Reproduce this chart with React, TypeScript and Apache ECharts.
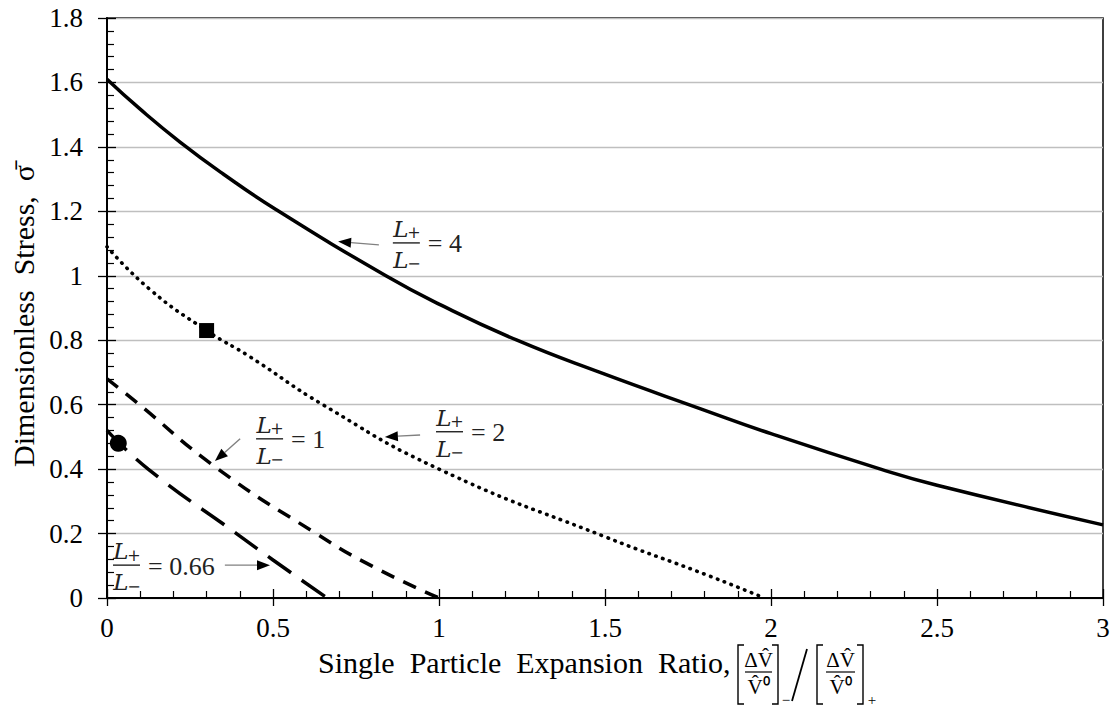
import React, { useEffect, useRef } from 'react';
import * as echarts from 'echarts';

// ---- data ----
const curve4X = [0, 0.1, 0.22, 0.35, 0.51, 0.84, 1.0, 1.235, 1.485, 1.786, 2.0, 2.33, 2.5, 3.0];
const curve4Y = [1.61, 1.517, 1.415, 1.316, 1.205, 1.00, 0.912, 0.80, 0.70, 0.588, 0.51, 0.40, 0.35, 0.227];

const curve2X = [0, 0.13, 0.3, 0.43, 0.65, 1.0, 1.5, 1.8, 1.98];
const curve2Y = [1.09, 0.957, 0.83, 0.749, 0.60, 0.40, 0.19, 0.074, 0];

const curve1X = [0, 0.08, 0.335, 0.63, 0.8, 1.0];
const curve1Y = [0.68, 0.615, 0.40, 0.20, 0.098, 0];

const curve066X = [0, 0.124, 0.39, 0.5, 0.663];
const curve066Y = [0.52, 0.40, 0.20, 0.118, 0];

const squarePoint = [0.3, 0.83];
const circlePoint = [0.034, 0.48];

const annoValues = ['4', '2', '1', '0.66'];
const annoTip = [[0.696, 1.106], [0.837, 0.5], [0.325, 0.425], [0.491, 0.102]];
const annoTail = [[0.819, 1.096], [0.943, 0.506], [0.401, 0.494], [0.355, 0.102]];
const annoLabelAt = [[0.861, 1.102], [0.991, 0.516], [0.449, 0.494], [0.018, 0.102]];

const xMin = 0, xMax = 3, xInterval = 0.5;
const yMin = 0, yMax = 1.8, yInterval = 0.2;

const zip = (xs: number[], ys: number[]) => xs.map((x, i) => [x, ys[i]]);

const SERIF = 'Liberation Serif, serif';
const MATH = 'DejaVu Serif, serif';

function renderAnno(params: any, api: any) {
  const i = params.dataIndex;
  const tip = api.coord([api.value(0), api.value(1)]);
  const tail = api.coord([api.value(2), api.value(3)]);
  const lab = api.coord([api.value(4), api.value(5)]);
  const dx = tip[0] - tail[0], dy = tip[1] - tail[1];
  const len = Math.hypot(dx, dy) || 1;
  const ux = dx / len, uy = dy / len;
  const hl = 13, hw = 5;
  const base = [tip[0] - ux * hl, tip[1] - uy * hl];
  const px = -uy, py = ux;
  const bx = lab[0], by = lab[1];
  const W = 27;
  const txt = (text: string, x: number, y: number, size: number, italic: boolean, va: string, align = 'center', family = MATH) => ({
    type: 'text', x, y,
    style: { text, fontSize: size, fontFamily: family, fontStyle: italic ? 'italic' : 'normal', fill: '#222', align, verticalAlign: va },
  });
  return {
    type: 'group',
    children: [
      { type: 'line', shape: { x1: tail[0], y1: tail[1], x2: base[0], y2: base[1] }, style: { stroke: '#808080', lineWidth: 1.4 } },
      { type: 'polygon', shape: { points: [tip, [base[0] + px * hw, base[1] + py * hw], [base[0] - px * hw, base[1] - py * hw]] }, style: { fill: '#000' } },
      { type: 'line', shape: { x1: bx, y1: by, x2: bx + W, y2: by }, style: { stroke: '#222', lineWidth: 1.4 } },
      txt('L', bx + 8, by - 14, 23, true, 'middle'),
      txt('+', bx + 21, by - 10, 16, false, 'middle'),
      txt('L', bx + 8, by + 17, 23, true, 'middle'),
      txt('\u2212', bx + 21, by + 21, 16, false, 'middle'),
      txt('= ' + annoValues[i], bx + W + 8, by + 1, 26, false, 'middle', 'left', SERIF),
    ],
  };
}

function bracketFrac(x0: number, contentL: number, contentR: number, right: number, sub: string, subX: number) {
  const top = 645, bot = 704, arm = 6;
  const cx = (contentL + contentR) / 2;
  const els: any[] = [
    { type: 'polyline', shape: { points: [[x0 + arm, top], [x0, top], [x0, bot], [x0 + arm, bot]] }, style: { stroke: '#000', lineWidth: 1.4, fill: 'none' } },
    { type: 'polyline', shape: { points: [[right - arm, top], [right, top], [right, bot], [right - arm, bot]] }, style: { stroke: '#000', lineWidth: 1.4, fill: 'none' } },
    { type: 'line', shape: { x1: contentL, y1: 672, x2: contentR, y2: 672 }, style: { stroke: '#000', lineWidth: 1.2 } },
    { type: 'text', x: cx, y: 660, style: { text: '\u0394V\u0302', fontSize: 21, fontFamily: SERIF, fill: '#000', align: 'center', verticalAlign: 'middle' } },
    { type: 'text', x: cx, y: 687, style: { text: 'V\u0302\u2070', fontSize: 21, fontFamily: SERIF, fill: '#000', align: 'center', verticalAlign: 'middle' } },
    { type: 'text', x: subX, y: 700, style: { text: sub, fontSize: 15, fontFamily: SERIF, fill: '#000', align: 'center', verticalAlign: 'middle' } },
  ];
  return els;
}

export default function App() {
  const ref = useRef<HTMLDivElement>(null);
  useEffect(() => {
    if (!ref.current) return;
    const chart = echarts.init(ref.current, null, { renderer: 'svg' });
    const lineBase = { type: 'line', showSymbol: false, symbol: 'none', smooth: 0.5, xAxisIndex: 0, yAxisIndex: 0, silent: true };
    const option: any = {
      animation: false,
      backgroundColor: '#fff',
      grid: { left: 107, right: 11, top: 18, bottom: 113, show: true, borderColor: '#000', borderWidth: 1.5, containLabel: false, outerBoundsMode: 'none' },
      xAxis: [
        {
          type: 'value', min: xMin, max: xMax, interval: xInterval, position: 'bottom',
          axisLine: { show: true, onZero: false, lineStyle: { color: '#000', width: 2 } },
          axisTick: { show: true, inside: true, length: 9, lineStyle: { color: '#000', width: 1.3 } },
          minorTick: { show: true, splitNumber: 5, length: 7, lineStyle: { color: '#000', width: 1.2 } },
          axisLabel: { show: true, margin: 16, fontSize: 27, fontFamily: SERIF, color: '#000' },
          splitLine: { show: false },
        },
        {
          type: 'value', min: xMin, max: xMax, interval: xInterval, position: 'bottom',
          axisLine: { show: false, onZero: false },
          axisTick: { show: true, inside: false, length: 8, lineStyle: { color: '#000', width: 1.3 } },
          axisLabel: { show: false }, splitLine: { show: false },
        },
      ],
      yAxis: [
        {
          type: 'value', min: yMin, max: yMax, interval: yInterval, position: 'left',
          name: 'Dimensionless  Stress,  \u03C3\u0304', nameLocation: 'middle', nameGap: 65, nameRotate: 90,
          nameTextStyle: { fontSize: 30, fontFamily: SERIF, color: '#000', padding: [0, 16, 0, 0] },
          axisLine: { show: true, onZero: false, lineStyle: { color: '#000', width: 2 } },
          axisTick: { show: true, inside: true, length: 9, lineStyle: { color: '#000', width: 1.3 } },
          minorTick: { show: true, splitNumber: 5, length: 7, lineStyle: { color: '#000', width: 1.2 } },
          axisLabel: { show: true, margin: 24, fontSize: 27, fontFamily: SERIF, color: '#000' },
          splitLine: { show: true, lineStyle: { color: '#bfbfbf', width: 1.3 } },
        },
        {
          type: 'value', min: yMin, max: yMax, interval: yInterval, position: 'left',
          axisLine: { show: false, onZero: false },
          axisTick: { show: true, inside: false, length: 9, lineStyle: { color: '#000', width: 1.3 } },
          axisLabel: { show: false }, splitLine: { show: false },
        },
      ],
      series: [
        { ...lineBase, name: 'L4', data: zip(curve4X, curve4Y), lineStyle: { color: '#000', width: 3.5, type: 'solid' } },
        { ...lineBase, name: 'L2', data: zip(curve2X, curve2Y), lineStyle: { color: '#000', width: 3.6, type: [0.5, 6.8], cap: 'round' } },
        { ...lineBase, name: 'L1', data: zip(curve1X, curve1Y), lineStyle: { color: '#000', width: 3.5, type: [14, 10], cap: 'butt' } },
        { ...lineBase, name: 'L066', data: zip(curve066X, curve066Y), lineStyle: { color: '#000', width: 3.5, type: [28, 13], cap: 'butt' } },
        { type: 'scatter', name: 'sq', data: [squarePoint], symbol: 'rect', symbolSize: 15, itemStyle: { color: '#000', opacity: 1 }, silent: true, z: 5 },
        { type: 'scatter', name: 'ci', data: [circlePoint], symbol: 'circle', symbolSize: 17, itemStyle: { color: '#000', opacity: 1 }, silent: true, z: 5 },
        {
          type: 'custom', name: 'anno', renderItem: renderAnno, clip: false, silent: true, z: 6,
          encode: { x: 0, y: 1 },
          data: annoValues.map((_, i) => [annoTip[i][0], annoTip[i][1], annoTail[i][0], annoTail[i][1], annoLabelAt[i][0], annoLabelAt[i][1]]),
        },
      ],
      graphic: [
        { type: 'text', x: 318, y: 662, style: { text: 'Single  Particle  Expansion  Ratio,', fontSize: 30, fontFamily: SERIF, fill: '#000', align: 'left', verticalAlign: 'middle' } },
        ...bracketFrac(738, 745, 772, 778, '\u2212', 786),
        { type: 'line', shape: { x1: 792, y1: 701, x2: 807, y2: 649 }, style: { stroke: '#000', lineWidth: 1.8 } },
        ...bracketFrac(817, 826, 855, 863, '+', 872),
      ],
    };
    chart.setOption(option);
    return () => chart.dispose();
  }, []);
  return <div ref={ref} style={{ position: 'fixed', left: 0, top: 0, width: 1114, height: 711, background: '#fff' }} />;
}
